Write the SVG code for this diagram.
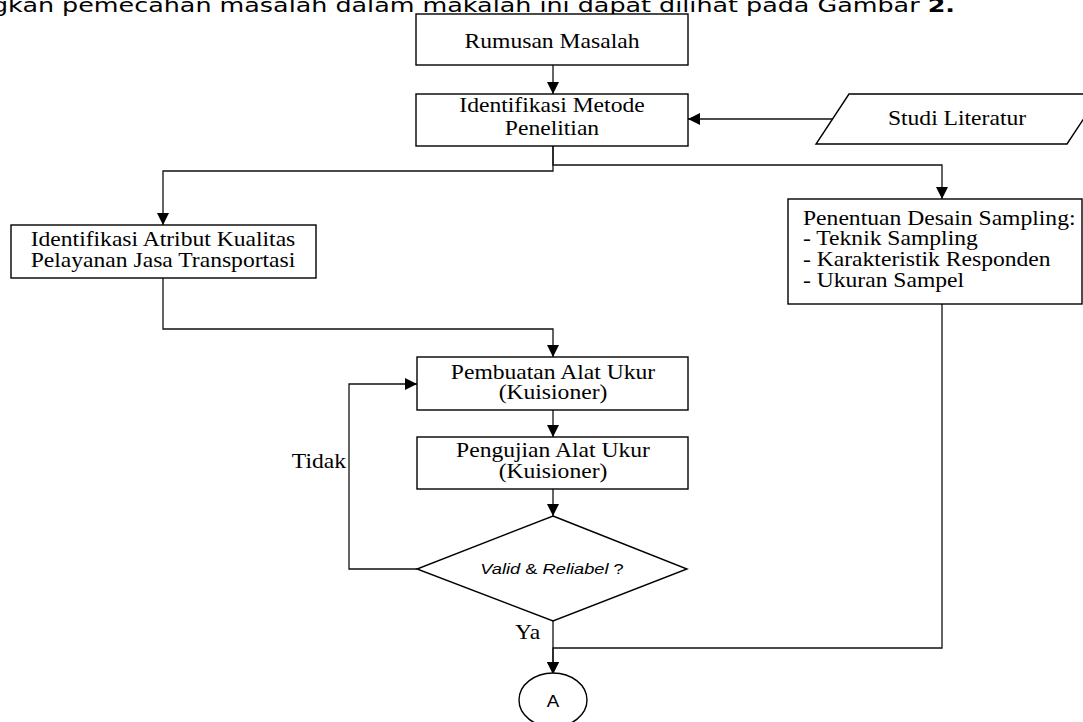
<svg xmlns="http://www.w3.org/2000/svg" width="1083" height="722" viewBox="0 0 1083 722">
<style>
.box{fill:#fff;stroke:#000;stroke-width:1.4}
.ln{fill:none;stroke:#111;stroke-width:1.3}
.t{font-family:"Liberation Serif","Times New Roman",serif;font-size:20px;fill:#000}
.c{text-anchor:middle}
.s{font-family:"Liberation Sans",Arial,sans-serif;fill:#000}
</style>
<defs>
<marker id="ah" viewBox="0 0 12 12" refX="12" refY="6" markerWidth="12" markerHeight="12" markerUnits="userSpaceOnUse" orient="auto">
<path d="M0,0 L12,6 L0,12 Z" fill="#000"/>
</marker>
</defs>
<rect width="1083" height="722" fill="#fff"/>
<text x="-8" y="12" font-family="'DejaVu Sans',Verdana,sans-serif" font-size="20" textLength="963" lengthAdjust="spacingAndGlyphs" fill="#000">gkan pemecahan masalah dalam makalah ini dapat dilihat pada Gambar <tspan font-weight="bold">2.</tspan></text>

<g id="connectors">
<path class="ln" d="M553,65 V94" marker-end="url(#ah)"/>
<path class="ln" d="M832,119 H688" marker-end="url(#ah)"/>
<path class="ln" d="M553,146 V171 H163 V225" marker-end="url(#ah)"/>
<path class="ln" d="M553,146 V165 H942 V199" marker-end="url(#ah)"/>
<path class="ln" d="M163,278 V329 H553 V357" marker-end="url(#ah)"/>
<path class="ln" d="M553,410 V437" marker-end="url(#ah)"/>
<path class="ln" d="M553,489 V516" marker-end="url(#ah)"/>
<path class="ln" d="M417,569 H349 V384 H417" marker-end="url(#ah)"/>
<path class="ln" d="M553,621 V674" marker-end="url(#ah)"/>
<path class="ln" d="M942,304 V648 H553 V674" marker-end="url(#ah)"/>
<text class="t" transform="translate(346,468) scale(1.18,1)" font-size="17" text-anchor="end">Tidak</text>
<text class="t" transform="translate(515,639) scale(1.18,1)" font-size="17">Ya</text>
</g>

<g id="rumusan">
<rect class="box" x="416" y="14" width="272" height="51"/>
<text class="t c" transform="translate(552,48) scale(1.18,1)">Rumusan Masalah</text>
</g>

<g id="metode">
<rect class="box" x="416" y="94" width="272" height="52"/>
<text class="t c" transform="translate(552,112) scale(1.18,1)">Identifikasi Metode</text>
<text class="t c" transform="translate(552,135) scale(1.18,1)">Penelitian</text>
</g>

<g id="studi">
<polygon class="box" points="849,94 1100,94 1067,144 816,144"/>
<text class="t c" transform="translate(957,125) scale(1.18,1)">Studi Literatur</text>
</g>

<g id="atribut">
<rect class="box" x="11" y="225" width="305" height="53"/>
<text class="t c" transform="translate(163,246) scale(1.18,1)">Identifikasi Atribut Kualitas</text>
<text class="t c" transform="translate(163,267) scale(1.18,1)">Pelayanan Jasa Transportasi</text>
</g>

<g id="sampling">
<rect class="box" x="788" y="199" width="294" height="105"/>
<text class="t" transform="translate(803,225) scale(1.18,1)">Penentuan Desain Sampling:</text>
<text class="t" transform="translate(803,245) scale(1.18,1)"> - Teknik Sampling</text>
<text class="t" transform="translate(803,266) scale(1.18,1)"> - Karakteristik Responden</text>
<text class="t" transform="translate(803,287) scale(1.18,1)"> - Ukuran Sampel</text>
</g>

<g id="pembuatan">
<rect class="box" x="417" y="357" width="271" height="53"/>
<text class="t c" transform="translate(553,379) scale(1.18,1)">Pembuatan Alat Ukur</text>
<text class="t c" transform="translate(553,399) scale(1.18,1)">(Kuisioner)</text>
</g>

<g id="pengujian">
<rect class="box" x="417" y="437" width="271" height="52"/>
<text class="t c" transform="translate(553,457) scale(1.18,1)">Pengujian Alat Ukur</text>
<text class="t c" transform="translate(553,478) scale(1.18,1)">(Kuisioner)</text>
</g>

<g id="decision">
<polygon class="box" points="553,516 687,569 553,621 417,569" stroke-width="1.1"/>
<text class="s c" transform="translate(552,574) scale(1.18,1)" font-size="15.5"><tspan font-style="italic">Valid</tspan> &amp; <tspan font-style="italic">Reliabel</tspan> ?</text>
</g>

<g id="connector-a">
<ellipse class="box" cx="553" cy="700" rx="34" ry="27" stroke-width="1.1"/>
<text class="s c" transform="translate(553,707) scale(1.1,1)" font-size="17">A</text>
</g>
</svg>
